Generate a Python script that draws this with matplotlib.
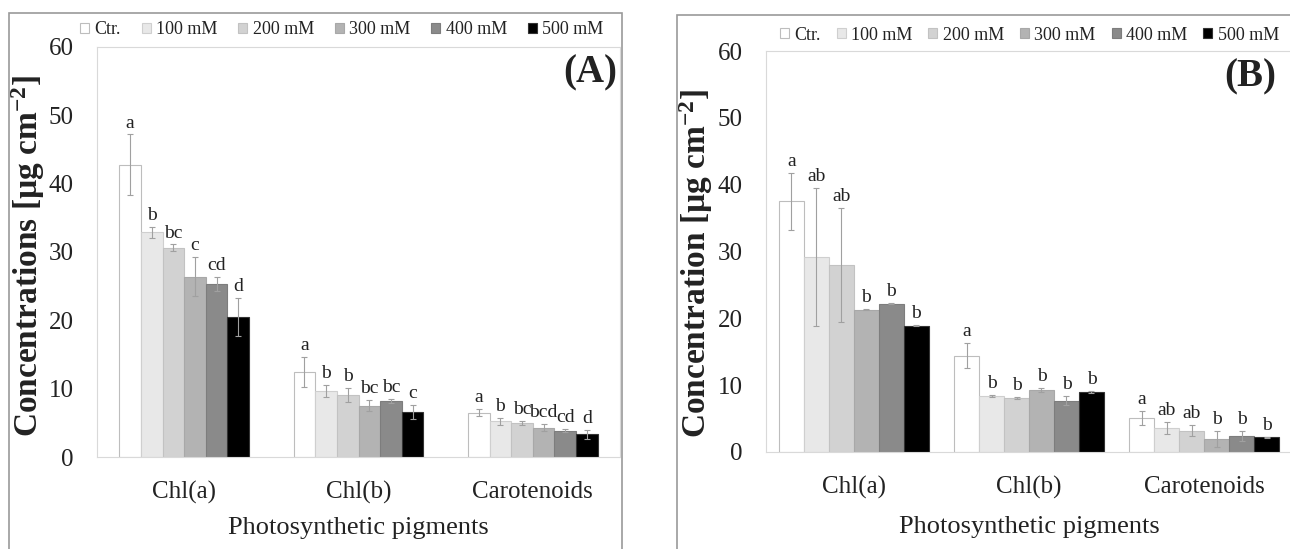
import matplotlib.pyplot as plt
import numpy as np
from matplotlib.patches import Patch, Rectangle

plt.rcParams["font.family"] = ["Liberation Serif", "DejaVu Serif"]
plt.rcParams["mathtext.default"] = "regular"

pigments = ["Chl(a)", "Chl(b)", "Carotenoids"]
treatments = ["Ctr.", "100 mM", "200 mM", "300 mM", "400 mM", "500 mM"]

# panel A: rows = treatment, columns = pigment
mean_a = [
    [42.8, 12.5, 6.5],
    [32.9, 9.7, 5.2],
    [30.6, 9.1, 5.0],
    [26.4, 7.5, 4.3],
    [25.3, 8.2, 3.85],
    [20.5, 6.6, 3.3],
]
err_a = [
    [4.4, 2.2, 0.5],
    [0.8, 0.9, 0.5],
    [0.5, 1.0, 0.3],
    [2.9, 0.8, 0.5],
    [1.0, 0.3, 0.2],
    [2.8, 1.0, 0.6],
]
letters_a = [
    ["a", "a", "a"],
    ["b", "b", "b"],
    ["bc", "b", "bc"],
    ["c", "bc", "bcd"],
    ["cd", "bc", "cd"],
    ["d", "c", "d"],
]

# panel B
mean_b = [
    [37.5, 14.4, 5.1],
    [29.2, 8.4, 3.6],
    [28.0, 8.1, 3.2],
    [21.3, 9.3, 2.0],
    [22.2, 7.7, 2.4],
    [18.9, 9.0, 2.2],
]
err_b = [
    [4.3, 1.9, 1.0],
    [10.3, 0.1, 0.9],
    [8.5, 0.1, 0.8],
    [0.1, 0.3, 1.2],
    [0.1, 0.7, 0.8],
    [0.1, 0.1, 0.1],
]
letters_b = [
    ["a", "a", "a"],
    ["ab", "b", "ab"],
    ["ab", "b", "ab"],
    ["b", "b", "b"],
    ["b", "b", "b"],
    ["b", "b", "b"],
]

colors = ["#ffffff", "#e8e8e8", "#d2d2d2", "#b3b3b3", "#8a8a8a", "#000000"]
edges = ["#bdbdbd", "#cfcfcf", "#c2c2c2", "#a8a8a8", "#7d7d7d", "#333333"]

W, H = 1290, 549
fig = plt.figure(figsize=(W / 100, H / 100), dpi=100)


def px_axes(left, top, right, bottom):
    return fig.add_axes([left / W, 1 - bottom / H, (right - left) / W, (bottom - top) / H])


def panel(ax, means, errs, letters, group_frac, ylabel, ylab_x, ylab_y, tickpad, xlab_y):
    means = np.array(means)
    errs = np.array(errs)
    x = np.arange(len(pigments))
    n = len(treatments)
    bw = group_frac / n
    for i in range(n):
        xs = x - group_frac / 2 + bw * (i + 0.5)
        ax.bar(xs, means[i], width=bw, color=colors[i], edgecolor=edges[i], linewidth=0.8,
               zorder=2)
        ax.errorbar(xs, means[i], yerr=errs[i], fmt="none", ecolor="#a0a0a0",
                    elinewidth=0.8, capsize=2.5, capthick=0.8, zorder=3)
        for j in range(len(pigments)):
            ax.annotate(letters[i][j], (xs[j], means[i][j] + errs[i][j]),
                        xytext=(0, 5), textcoords="offset points",
                        ha="center", va="baseline", fontsize=14, color="#222222")
    ax.set_xlim(-0.5, len(pigments) - 0.5)
    ax.set_ylim(0, 60)
    ax.set_yticks(range(0, 61, 10))
    ax.set_xticks(x)
    ax.set_xticklabels(pigments, fontsize=18, color="#222222")
    ax.tick_params(axis="x", length=0, pad=17)
    ax.tick_params(axis="y", length=0, pad=tickpad, labelsize=18, labelcolor="#222222")
    for s in ax.spines.values():
        s.set_color("#d9d9d9")
        s.set_linewidth(0.8)
    ax.set_xlabel("Photosynthetic pigments", fontsize=19, color="#222222", va="center")
    ax.xaxis.set_label_coords(0.5, xlab_y)
    ax.set_ylabel(ylabel, fontsize=24, fontweight="bold", color="#222222", va="center")
    ax.yaxis.set_label_coords(ylab_x, ylab_y)


ax_a = px_axes(97, 47, 620, 457)
panel(ax_a, mean_a, err_a, letters_a, 0.745, "Concentrations [µg cm$^{-2}$]",
      -0.132, 0.49, 17, -0.172)

ax_b = px_axes(766, 51, 1292, 452)
panel(ax_b, mean_b, err_b, letters_b, 0.855, "Concentration [µg cm$^{-2}$]",
      -0.132, 0.47, 17, -0.187)

# outer frames around each panel
fig.patches.append(Rectangle((9 / W, -0.01), (622 - 9) / W, 1 - 13 / H + 0.01,
                             transform=fig.transFigure, fill=False,
                             edgecolor="#9a9a9a", linewidth=1.2))
fig.patches.append(Rectangle((677 / W, -0.01), (1300 - 677) / W, 1 - 15 / H + 0.01,
                             transform=fig.transFigure, fill=False,
                             edgecolor="#9a9a9a", linewidth=1.2))

handles = [Patch(facecolor=c, edgecolor=e, linewidth=0.8) for c, e in zip(colors, edges)]
for x0, y0, colsp in [(80, 30, 1.15), (780, 35, 0.88)]:
    fig.legend(handles, treatments, loc="center left", bbox_to_anchor=(x0 / W, 1 - y0 / H),
               ncol=6, frameon=False, fontsize=13, handlelength=0.5, handleheight=0.5,
               handletextpad=0.3, columnspacing=colsp, borderpad=0, borderaxespad=0,
               labelcolor="#222222")

fig.text(590 / W, 1 - 73 / H, "(A)", fontsize=28, fontweight="bold", ha="center", va="center",
         color="#222222")
fig.text(1250 / W, 1 - 77 / H, "(B)", fontsize=28, fontweight="bold", ha="center", va="center",
         color="#222222")

fig.savefig("out.png", dpi=100)
